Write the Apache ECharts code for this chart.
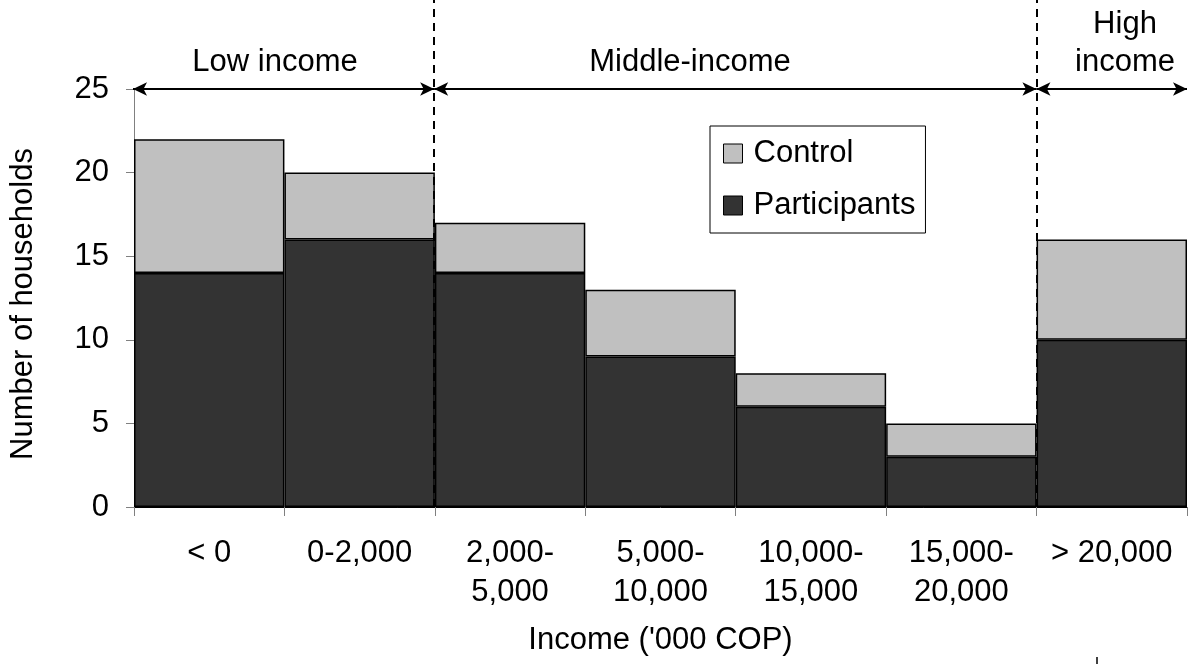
<!DOCTYPE html>
<html>
<head>
<meta charset="utf-8">
<script src="https://cdn.jsdelivr.net/npm/echarts@6/dist/echarts.min.js"></script>
<style>
html,body{margin:0;padding:0;background:#fff;}
#c{width:1188px;height:664px;}
</style>
</head>
<body>
<div id="c"></div>
<script>
const categories = ['< 0', '0-2,000', '2,000-\n5,000', '5,000-\n10,000', '10,000-\n15,000', '15,000-\n20,000', '> 20,000'];
const participants = [14, 16, 14, 9, 6, 3, 10];
const control = [8, 4, 3, 4, 2, 2, 6];
const regionBounds = [0, 2, 6, 7];
const regionNames = ['Low income', 'Middle-income', 'High\nincome'];
const arrowLevel = 25;

const FONT = '"Liberation Sans", Arial, sans-serif';
const FS = 31;

const chart = echarts.init(document.getElementById('c'), null, {renderer: 'canvas'});

const arrowLines = [];
for (let i = 0; i < regionBounds.length - 1; i++) {
  arrowLines.push([{coord: [regionBounds[i], arrowLevel]}, {coord: [regionBounds[i + 1], arrowLevel]}]);
}
const topVal = 25 * 507 / 418;
const dashedLines = [regionBounds[1], regionBounds[2]].map(b => [
  {coord: [b, 0], symbol: 'none', lineStyle: {type: [8, 6], width: 2, color: '#000'}},
  {coord: [b, topVal], symbol: 'none'}
]);

chart.setOption({
  animation: false,
  backgroundColor: '#fff',
  textStyle: {fontFamily: FONT, color: '#000'},
  grid: [
    {left: 133, right: 1, top: 89, bottom: 157},
    {left: 133, right: 1, top: 0, bottom: 157}
  ],
  legend: {
    orient: 'vertical',
    left: 710,
    top: 126,
    data: ['Control', 'Participants'],
    icon: 'rect',
    itemWidth: 19,
    itemHeight: 19,
    itemGap: 21,
    padding: [12, 10, 12, 13],
    borderColor: '#000',
    borderWidth: 1,
    backgroundColor: '#fff',
    itemStyle: {borderColor: '#000', borderWidth: 1},
    textStyle: {fontFamily: FONT, fontSize: FS, color: '#000', padding: [0, 0, 0, 6]}
  },
  xAxis: [
    {
      type: 'category',
      gridIndex: 0,
      data: categories,
      axisLine: {show: true, lineStyle: {color: '#000', width: 1}},
      axisTick: {show: true, interval: 0, length: 9, lineStyle: {color: '#808080', width: 1}},
      axisLabel: {interval: 0, fontFamily: FONT, fontSize: FS, color: '#000', lineHeight: 39, margin: 27},
      name: "Income ('000 COP)",
      nameLocation: 'middle',
      nameGap: 118,
      nameTextStyle: {fontFamily: FONT, fontSize: FS, color: '#000'},
      splitLine: {show: false}
    },
    {type: 'value', gridIndex: 1, min: 0, max: 7, show: false}
  ],
  yAxis: [
    {
      type: 'value',
      gridIndex: 0,
      min: 0,
      max: 25,
      interval: 5,
      axisLine: {show: true, lineStyle: {color: '#808080', width: 1}},
      axisTick: {show: true, length: 8, lineStyle: {color: '#808080', width: 1}},
      axisLabel: {fontFamily: FONT, fontSize: FS, color: '#000', margin: 25},
      splitLine: {show: false},
      name: 'Number of households',
      nameLocation: 'middle',
      nameGap: 95,
      nameTextStyle: {fontFamily: FONT, fontSize: FS, color: '#000', padding: [0, 12, 0, 0]}
    },
    {type: 'value', gridIndex: 1, min: 0, max: topVal, show: false}
  ],
  series: [
    {
      name: 'Participants',
      type: 'bar',
      stack: 'total',
      xAxisIndex: 0,
      yAxisIndex: 0,
      data: participants,
      barCategoryGap: '0%',
      itemStyle: {color: '#333333', borderColor: '#000', borderWidth: 1.5}
    },
    {
      name: 'Control',
      type: 'bar',
      stack: 'total',
      xAxisIndex: 0,
      yAxisIndex: 0,
      data: control,
      barCategoryGap: '0%',
      itemStyle: {color: '#c0c0c0', borderColor: '#000', borderWidth: 1.5}
    },
    {
      name: 'annot',
      type: 'line',
      xAxisIndex: 1,
      yAxisIndex: 1,
      data: [],
      z: 10,
      clip: false,
      markLine: {
        silent: true,
        animation: false,
        symbol: ['arrow', 'arrow'],
        symbolSize: [10, 14],
        label: {show: false},
        lineStyle: {color: '#000', width: 2, type: 'solid'},
        emphasis: {disabled: true},
        data: arrowLines.concat(dashedLines)
      }
    }
  ],
  graphic: [
    {type: 'text', x: 275, y: 62, style: {text: regionNames[0], fontFamily: FONT, fontSize: FS, fill: '#000', align: 'center', verticalAlign: 'middle'}},
    {type: 'text', x: 690, y: 62, style: {text: regionNames[1], fontFamily: FONT, fontSize: FS, fill: '#000', align: 'center', verticalAlign: 'middle'}},
    {type: 'text', x: 1125, y: 43, style: {text: regionNames[2], fontFamily: FONT, fontSize: FS, lineHeight: 38, fill: '#000', align: 'center', verticalAlign: 'middle'}},
    {type: 'line', shape: {x1: 1097, y1: 657, x2: 1097, y2: 664}, style: {stroke: '#000', lineWidth: 1.5}}
  ]
});
</script>
</body>
</html>
